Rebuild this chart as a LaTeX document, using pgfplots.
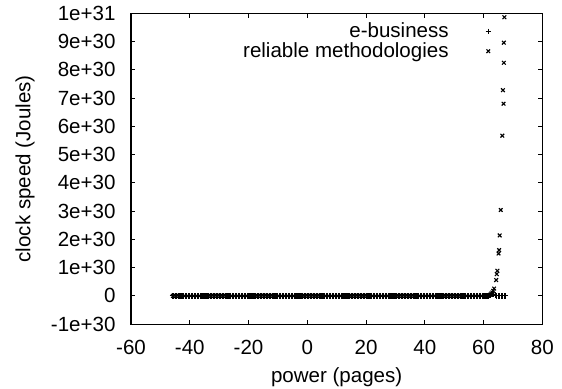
\documentclass[border=0pt]{standalone}
\usepackage{pgfplots}
\pgfplotsset{compat=1.18}
\usepackage{fontspec}
\setmainfont{Liberation Sans}
\begin{document}
\begin{tikzpicture}[font=\fontsize{10.3}{12}\selectfont]
\begin{axis}[
  scale only axis, width=205.5bp, height=155.35bp,
  xmin=-60, xmax=80, ymin=-1e30, ymax=1e31,
  scaled y ticks=false, scaled x ticks=false,
  xtick={-60,-40,-20,0,20,40,60,80},
  xticklabels={-60,-40,-20,0,20,40,60,80},
  ytick={-1e30,0,1e30,2e30,3e30,4e30,5e30,6e30,7e30,8e30,9e30,1e31},
  yticklabels={-1e+30,0,1e+30,2e+30,3e+30,4e+30,5e+30,6e+30,7e+30,8e+30,9e+30,1e+31},
  /pgf/number format/assume math mode=true,
  tick align=inside, major tick length=2.2bp,
  axis line style={line width=0.6bp},
  every tick/.style={black, line width=0.5bp},
  xticklabel style={inner sep=0pt, anchor=north, yshift=-7.8bp},
  yticklabel style={inner sep=0pt, anchor=east, xshift=-7.6bp},
  xlabel={power (pages)}, ylabel={clock speed (Joules)},
  xlabel style={at={(axis description cs:0.5,-0.1706)}, anchor=center},
  ylabel style={at={(axis description cs:-0.2579,0.5)}, anchor=center},
  legend plot pos=right, legend cell align=right,
  legend style={draw=none, fill=none, at={(axis description cs:0.8759,0.972)}, anchor=north east,
    inner sep=0pt, nodes={inner sep=0pt}, row sep=1bp,
    /tikz/every odd column/.append style={column sep=18.5bp}},
]
\addplot[only marks, mark=+, mark size=1.3bp, line width=0.55bp, black] coordinates {
(-46,0) (-45.5,0) (-45,0) (-44.5,0) (-44,0) (-43.5,0) (-43,0) (-42.5,0) (-42,0) (-41.5,0)
(-41,0) (-40.5,0) (-40,0) (-39.5,0) (-39,0) (-38.5,0) (-38,0) (-37.5,0) (-37,0) (-36.5,0)
(-36,0) (-35.5,0) (-35,0) (-34.5,0) (-34,0) (-33.5,0) (-33,0) (-32.5,0) (-32,0) (-31.5,0)
(-31,0) (-30.5,0) (-30,0) (-29.5,0) (-29,0) (-28.5,0) (-28,0) (-27.5,0) (-27,0) (-26.5,0)
(-26,0) (-25.5,0) (-25,0) (-24.5,0) (-24,0) (-23.5,0) (-23,0) (-22.5,0) (-22,0) (-21.5,0)
(-21,0) (-20.5,0) (-20,0) (-19.5,0) (-19,0) (-18.5,0) (-18,0) (-17.5,0) (-17,0) (-16.5,0)
(-16,0) (-15.5,0) (-15,0) (-14.5,0) (-14,0) (-13.5,0) (-13,0) (-12.5,0) (-12,0) (-11.5,0)
(-11,0) (-10.5,0) (-10,0) (-9.5,0) (-9,0) (-8.5,0) (-8,0) (-7.5,0) (-7,0) (-6.5,0)
(-6,0) (-5.5,0) (-5,0) (-4.5,0) (-4,0) (-3.5,0) (-3,0) (-2.5,0) (-2,0) (-1.5,0)
(-1,0) (-0.5,0) (0,0) (0.5,0) (1,0) (1.5,0) (2,0) (2.5,0) (3,0) (3.5,0)
(4,0) (4.5,0) (5,0) (5.5,0) (6,0) (6.5,0) (7,0) (7.5,0) (8,0) (8.5,0)
(9,0) (9.5,0) (10,0) (10.5,0) (11,0) (11.5,0) (12,0) (12.5,0) (13,0) (13.5,0)
(14,0) (14.5,0) (15,0) (15.5,0) (16,0) (16.5,0) (17,0) (17.5,0) (18,0) (18.5,0)
(19,0) (19.5,0) (20,0) (20.5,0) (21,0) (21.5,0) (22,0) (22.5,0) (23,0) (23.5,0)
(24,0) (24.5,0) (25,0) (25.5,0) (26,0) (26.5,0) (27,0) (27.5,0) (28,0) (28.5,0)
(29,0) (29.5,0) (30,0) (30.5,0) (31,0) (31.5,0) (32,0) (32.5,0) (33,0) (33.5,0)
(34,0) (34.5,0) (35,0) (35.5,0) (36,0) (36.5,0) (37,0) (37.5,0) (38,0) (38.5,0)
(39,0) (39.5,0) (40,0) (40.5,0) (41,0) (41.5,0) (42,0) (42.5,0) (43,0) (43.5,0)
(44,0) (44.5,0) (45,0) (45.5,0) (46,0) (46.5,0) (47,0) (47.5,0) (48,0) (48.5,0)
(49,0) (49.5,0) (50,0) (50.5,0) (51,0) (51.5,0) (52,0) (52.5,0) (53,0) (53.5,0)
(54,0) (54.5,0) (55,0) (55.5,0) (56,0) (56.5,0) (57,0) (57.5,0) (58,0) (58.5,0)
(59,0) (59.5,0) (60,0) (60.5,0) (61,0) (61.5,0) (62,0.01e30) (62.5,0.02e30) (63,0.04e30) (63.5,0.06e30)
(64,0.03e30) (64.5,0) (65,0) (65.5,0) (66,0) (66.5,0) (67,0) (67.5,0)
};
\addlegendentry{e-business}
\addplot[only marks, mark=x, mark size=1.3bp, line width=0.55bp, black] coordinates {
(-45.75,0) (-44.75,0) (-43.75,0) (-42.75,0) (-41.75,0) (-40.75,0) (-39.75,0) (-38.75,0) (-37.75,0) (-36.75,0)
(-35.75,0) (-34.75,0) (-33.75,0) (-32.75,0) (-31.75,0) (-30.75,0) (-29.75,0) (-28.75,0) (-27.75,0) (-26.75,0)
(-25.75,0) (-24.75,0) (-23.75,0) (-22.75,0) (-21.75,0) (-20.75,0) (-19.75,0) (-18.75,0) (-17.75,0) (-16.75,0)
(-15.75,0) (-14.75,0) (-13.75,0) (-12.75,0) (-11.75,0) (-10.75,0) (-9.75,0) (-8.75,0) (-7.75,0) (-6.75,0)
(-5.75,0) (-4.75,0) (-3.75,0) (-2.75,0) (-1.75,0) (-0.75,0) (0.25,0) (1.25,0) (2.25,0) (3.25,0)
(4.25,0) (5.25,0) (6.25,0) (7.25,0) (8.25,0) (9.25,0) (10.25,0) (11.25,0) (12.25,0) (13.25,0)
(14.25,0) (15.25,0) (16.25,0) (17.25,0) (18.25,0) (19.25,0) (20.25,0) (21.25,0) (22.25,0) (23.25,0)
(24.25,0) (25.25,0) (26.25,0) (27.25,0) (28.25,0) (29.25,0) (30.25,0) (31.25,0) (32.25,0) (33.25,0)
(34.25,0) (35.25,0) (36.25,0) (37.25,0) (38.25,0) (39.25,0) (40.25,0) (41.25,0) (42.25,0) (43.25,0)
(44.25,0) (45.25,0) (46.25,0) (47.25,0) (48.25,0) (49.25,0) (50.25,0) (51.25,0) (52.25,0) (53.25,0)
(54.25,0) (55.25,0) (56.25,0) (57.25,0) (58.25,0) (59.25,0) (60.25,0) (61.25,0.01e30) (61.75,0.02e30)
(62.2,0.04e30) (62.6,0.08e30) (63.0,0.12e30) (63.3,0.18e30) (63.6,0.26e30)
(64.3,0.56e30) (64.5,0.77e30) (64.7,0.89e30) (65.1,1.5e30) (65.3,1.62e30)
(65.5,2.14e30) (65.85,3.04e30) (66.4,5.67e30) (66.8,6.8e30) (66.6,7.28e30)
(66.9,8.25e30) (66.9,8.96e30) (67.1,9.86e30)
};
\addlegendentry{reliable methodologies}
\end{axis}
\pgfresetboundingbox
\useasboundingbox ([shift={(-65.5bp,-32bp)}]current axis.south west) rectangle ([shift={(9.85bp,6.65bp)}]current axis.north east);
\end{tikzpicture}
\end{document}
